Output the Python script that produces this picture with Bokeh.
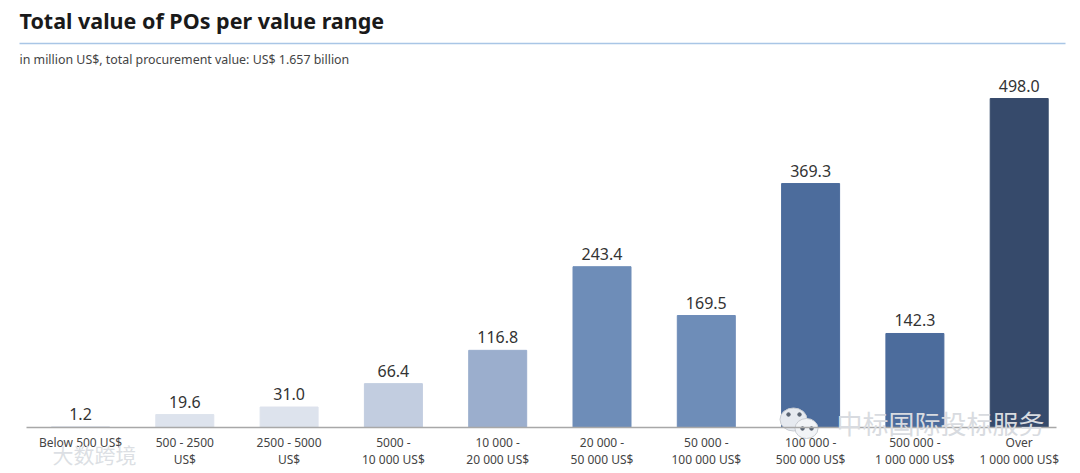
from bokeh.embed import file_html
from bokeh.resources import INLINE
from bokeh.plotting import figure
from bokeh.models import ColumnDataSource, Label, FixedTicker, Range1d
from bokeh.core.properties import value

categories = ["Below 500 US$", "500 - 2500\nUS$", "2500 - 5000\nUS$", "5000 -\n10 000 US$",
              "10 000 -\n20 000 US$", "20 000 -\n50 000 US$", "50 000 -\n100 000 US$",
              "100 000 -\n500 000 US$", "500 000 -\n1 000 000 US$", "Over\n1 000 000 US$"]
values = [1.2, 19.6, 31.0, 66.4, 116.8, 243.4, 169.5, 369.3, 142.3, 498.0]
colors = ["#dde3ed", "#dde3ed", "#dde3ed", "#c2cde0", "#9baecd",
          "#6e8db8", "#6e8db8", "#4c6c9c", "#4c6c9c", "#364a6b"]
positions = list(range(len(values)))

W, H = 1080, 473
PX_PER_UNIT = 0.6606
X0, DX = 80, 104.3
FONT = "Noto Sans"

def xd(px):
    return (px - X0) / DX
def yd(py):
    return (427 - py) / PX_PER_UNIT

p = figure(width=W, height=H, output_backend="svg", toolbar_location=None,
           x_range=Range1d(xd(0), xd(W)), y_range=Range1d(yd(H), yd(0)),
           min_border_left=0, min_border_right=0, min_border_top=0, min_border_bottom=0)
p.outline_line_color = None
p.grid.visible = False
p.yaxis.visible = False
p.background_fill_color = "white"

src = ColumnDataSource(dict(x=positions, top=values, color=colors, label=[f"{v:.1f}" for v in values]))
p.vbar(x="x", top="top", bottom=0, width=58 / DX, color="color", source=src)
p.text(x="x", y="top", text="label", source=src, text_align="center", text_baseline="bottom",
       text_font=value(FONT), text_font_size="16px", text_color="#333333", y_offset=-7)

ax = p.xaxis[0]
ax.fixed_location = 0
ax.ticker = FixedTicker(ticks=positions)
ax.major_label_overrides = {i: c for i, c in enumerate(categories)}
ax.bounds = (xd(26), xd(1056))
ax.axis_line_color = "#a8a8a8"
ax.axis_line_width = 1.5
ax.major_tick_line_color = None
ax.minor_tick_line_color = None
ax.major_label_text_font = FONT
ax.major_label_text_font_size = "12px"
ax.major_label_text_color = "#444444"
ax.major_label_standoff = 0
ax.major_label_text_line_height = 1.05

p.segment(x0=[xd(19)], x1=[xd(1065)], y0=[yd(43)], y1=[yd(43)], line_color="#a9c6e6", line_width=1.5)

p.add_layout(Label(x=xd(19), y=yd(20), text="Total  value of POs per value range", text_baseline="middle",
                   text_font=FONT, text_font_size="21.5px", text_font_style="bold", text_color="#1a1a1a"))
p.add_layout(Label(x=xd(19), y=yd(59), text="in million US$, total procurement value: US$ 1.657 billion",
                   text_baseline="middle", text_font=FONT, text_font_size="12.4px", text_color="#444444"))

p.ellipse(x=[xd(793), xd(806)], y=[yd(419), yd(428)], width=[27 / DX, 23 / DX],
          height=[23 / PX_PER_UNIT, 20 / PX_PER_UNIT], color=["#e6eaf0", "#f2f4f7"],
          line_color="#c8ccd2")
p.scatter(x=[xd(788), xd(799), xd(802), xd(811)], y=[yd(414), yd(414), yd(428), yd(428)],
          size=3.5, color="#5a6472")
p.add_layout(Label(x=xd(836), y=yd(422), text="中标国际投标服务", text_baseline="middle",
                   text_font="Noto Sans CJK SC", text_font_size="26px", text_color="#d8dbe0"))
p.add_layout(Label(x=xd(52), y=yd(453), text="大数跨境", text_baseline="middle",
                   text_font="Noto Sans CJK SC", text_font_size="21px", text_color="#dcdfe4"))

open("out.html", "w").write(file_html(p, INLINE))
